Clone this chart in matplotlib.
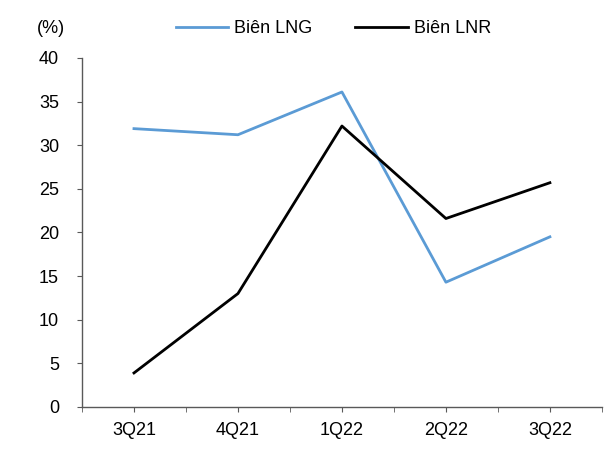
import matplotlib
matplotlib.use("Agg")
import matplotlib.pyplot as plt
import numpy as np

quarters = ["3Q21", "4Q21", "1Q22", "2Q22", "3Q22"]
lng_margin = [31.9, 31.2, 36.1, 14.3, 19.5]
lnr_margin = [3.9, 13.0, 32.2, 21.6, 25.7]

plt.rcParams["font.family"] = ["Liberation Sans", "DejaVu Sans"]

fig = plt.figure(figsize=(6.16, 4.5), dpi=100)
ax = fig.add_axes([0.1331, 0.0956, 0.844, 0.7756])

x = np.arange(len(quarters))
ax.plot(x, lng_margin, color="#5B9BD5", lw=2.0, label="Biên LNG")
ax.plot(x, lnr_margin, color="black", lw=2.0, label="Biên LNR")

ax.set_xlim(-0.5, len(quarters) - 0.5)
ax.set_ylim(0, 40)
ax.set_yticks(range(0, 41, 5))
ax.set_xticks(x)
ax.set_xticklabels(quarters)
ax.set_xticks(np.arange(-0.5, len(quarters), 1.0), minor=True)

for s in ("top", "right"):
    ax.spines[s].set_visible(False)
for s in ("left", "bottom"):
    ax.spines[s].set_color("#595959")
    ax.spines[s].set_linewidth(1.0)

ax.tick_params(axis="y", direction="out", length=3.5, color="#595959", labelsize=13, pad=13)
ax.tick_params(axis="x", which="both", direction="out", length=3.5, color="#595959", labelsize=13, pad=7)

fig.text(0.06, 0.936, "(%)", fontsize=13, ha="left", va="center")
fig.legend(loc="center", bbox_to_anchor=(0.541, 0.936), ncol=2, frameon=False,
           fontsize=13, handlelength=2.9, columnspacing=2.4, handletextpad=0.33)

fig.savefig("out.png", dpi=100)
